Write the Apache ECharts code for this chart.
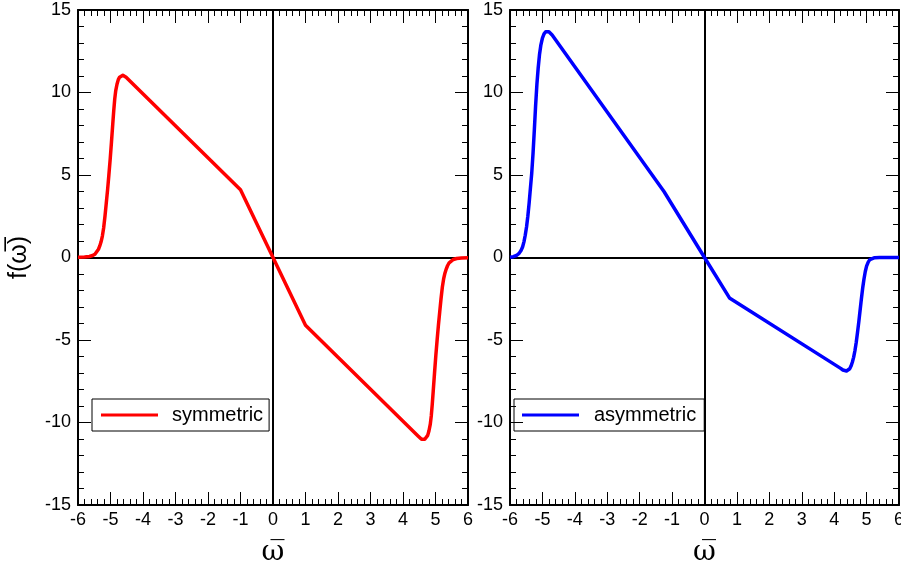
<!DOCTYPE html>
<html>
<head>
<meta charset="utf-8">
<script src="https://cdn.jsdelivr.net/npm/echarts@6/dist/echarts.min.js"></script>
<style>html,body{margin:0;padding:0;background:#fff}#c{width:901px;height:564px}</style>
</head>
<body>
<div id="c"></div>
<script>
// ---- data ----
const xTickValues = [-6, -5, -4, -3, -2, -1, 0, 1, 2, 3, 4, 5, 6];
const yTickValues = [-15, -10, -5, 0, 5, 10, 15];

const symX = [-6, -5.8, -5.65, -5.55, -5.48, -5.42, -5.37, -5.33, -5.29, -5.25, -5.21, -5.17, -5.13, -5.09, -5.05, -5.01,
              -4.97, -4.93, -4.9, -4.87, -4.84, -4.8, -4.76, -4.72, -4.67, -4.62, -4.57, -4.52, -4.47, -1.0, 0,
              1.0, 4.47, 4.52, 4.57, 4.62, 4.67, 4.72, 4.76, 4.8, 4.84, 4.87, 4.9, 4.93, 4.97,
              5.01, 5.05, 5.09, 5.13, 5.17, 5.21, 5.25, 5.29, 5.33, 5.37, 5.42, 5.48, 5.55, 5.65, 5.8, 6];
const symY = [0.02, 0.03, 0.06, 0.12, 0.2, 0.32, 0.5, 0.7, 0.95, 1.3, 1.8, 2.5, 3.3, 4.1, 5.0, 5.95,
              7.0, 8.1, 8.9, 9.6, 10.1, 10.5, 10.78, 10.93, 11.02, 11.05, 11.02, 10.93, 10.83, 4.1, 0,
              -4.1, -10.83, -10.93, -11.02, -11.05, -11.02, -10.93, -10.78, -10.5, -10.1, -9.6, -8.9, -8.1, -7.0,
              -5.95, -5.0, -4.1, -3.3, -2.5, -1.8, -1.3, -0.95, -0.7, -0.5, -0.32, -0.2, -0.12, -0.06, -0.03, -0.02];

const asymX = [-6, -5.9, -5.8, -5.72, -5.66, -5.61, -5.57, -5.53, -5.49, -5.45, -5.41, -5.37, -5.33, -5.29, -5.25, -5.21,
               -5.17, -5.13, -5.09, -5.05, -5.0, -4.95, -4.9, -4.85, -4.8, -4.75, -4.7, -1.25, 0,
               0.77, 4.2, 4.27, 4.33, 4.38, 4.43, 4.48, 4.52, 4.56, 4.6, 4.64, 4.68, 4.72, 4.76, 4.8,
               4.84, 4.88, 4.92, 4.96, 5.0, 5.05, 5.1, 5.16, 5.25, 5.4, 6];
const asymY = [0.02, 0.05, 0.12, 0.25, 0.42, 0.65, 0.95, 1.35, 1.85, 2.5, 3.3, 4.2, 5.1, 6.3, 7.7, 9.2,
               10.5, 11.5, 12.3, 12.85, 13.3, 13.55, 13.68, 13.72, 13.68, 13.6, 13.48, 4.0, 0,
               -2.45, -6.72, -6.82, -6.87, -6.88, -6.84, -6.74, -6.58, -6.35, -6.05, -5.65, -5.15, -4.55, -3.9, -3.2,
               -2.5, -1.85, -1.3, -0.85, -0.52, -0.28, -0.13, -0.05, -0.01, 0, 0];

const seriesNames = ['symmetric', 'asymmetric'];
const seriesColors = ['#ff0000', '#0000ff'];

// ---- chart ----
const FONT = 'Liberation Sans, Arial, sans-serif';
const zip = (xs, ys) => xs.map((x, i) => [x, ys[i]]);

function xAx(gi, pos) {
  const bottom = pos === 'bottom';
  return {
    gridIndex: gi, type: 'value', position: pos,
    min: xTickValues[0], max: xTickValues[xTickValues.length - 1], interval: 1,
    axisLine: { onZero: false, lineStyle: { color: '#000', width: 2 } },
    axisTick: { inside: true, length: 13, lineStyle: { color: '#000', width: 1 } },
    minorTick: { show: true, splitNumber: 5, length: 6, lineStyle: { color: '#000', width: 1 } },
    splitLine: { show: false },
    axisLabel: { show: bottom, color: '#000', fontSize: 18, fontFamily: FONT, margin: 6, hideOverlap: false },
    name: bottom ? 'ω\u0305' : '',
    nameLocation: 'middle', nameGap: 34,
    nameTextStyle: { color: '#000', fontSize: 28, fontFamily: 'DejaVu Serif, Liberation Serif, serif' }
  };
}
function yAx(gi, pos, withName) {
  const left = pos === 'left';
  return {
    gridIndex: gi, type: 'value', position: pos,
    min: yTickValues[0], max: yTickValues[yTickValues.length - 1], interval: 5,
    axisLine: { onZero: false, lineStyle: { color: '#000', width: 2 } },
    axisTick: { inside: true, length: 13, lineStyle: { color: '#000', width: 1 } },
    minorTick: { show: true, splitNumber: 5, length: 6, lineStyle: { color: '#000', width: 1 } },
    splitLine: { show: false },
    axisLabel: { show: left, color: '#000', fontSize: 18, fontFamily: FONT, margin: 7 },
    name: withName ? 'f(ω\u0305)' : '',
    nameLocation: 'middle', nameGap: 46, nameRotate: 90,
    nameTextStyle: { color: '#000', fontSize: 25, fontFamily: FONT }
  };
}

const zeroMark = {
  silent: true, symbol: 'none', z: 3,
  label: { show: false },
  lineStyle: { color: '#000', width: 2, type: 'solid' },
  data: [{ yAxis: 0 }, { xAxis: 0 }]
};

const option = {
  animation: false,
  backgroundColor: '#fff',
  grid: [
    { left: 78, top: 10, width: 390, height: 495, containLabel: false, outerBoundsMode: 'none' },
    { left: 510, top: 10, width: 389, height: 495, containLabel: false, outerBoundsMode: 'none' }
  ],
  xAxis: [xAx(0, 'bottom'), xAx(0, 'top'), xAx(1, 'bottom'), xAx(1, 'top')],
  yAxis: [yAx(0, 'left', true), yAx(0, 'right', false), yAx(1, 'left', false), yAx(1, 'right', false)],
  legend: [
    {
      data: [seriesNames[0]], left: 92, top: 399,
      orient: 'vertical', icon: 'rect', itemWidth: 57, itemHeight: 3,
      borderColor: '#000', borderWidth: 1, borderRadius: 0,
      padding: [6, 6, 6, 9],
      textStyle: { color: '#000', fontSize: 20, fontFamily: FONT, padding: [0, 0, 0, 9] }
    },
    {
      data: [seriesNames[1]], left: 514, top: 399,
      orient: 'vertical', icon: 'rect', itemWidth: 57, itemHeight: 3,
      borderColor: '#000', borderWidth: 1, borderRadius: 0,
      padding: [6, 8, 6, 8],
      textStyle: { color: '#000', fontSize: 20, fontFamily: FONT, padding: [0, 0, 0, 10] }
    }
  ],
  series: [
    {
      name: seriesNames[0], type: 'line', xAxisIndex: 0, yAxisIndex: 0,
      data: zip(symX, symY), smooth: false, symbol: 'none', z: 10,
      color: seriesColors[0], lineStyle: { color: seriesColors[0], width: 3.5, join: 'round' },
      markLine: zeroMark
    },
    {
      name: seriesNames[1], type: 'line', xAxisIndex: 2, yAxisIndex: 2,
      data: zip(asymX, asymY), smooth: false, symbol: 'none', z: 10,
      color: seriesColors[1], lineStyle: { color: seriesColors[1], width: 3.5, join: 'round' },
      markLine: zeroMark
    }
  ]
};

const chart = echarts.init(document.getElementById('c'), null, { renderer: 'canvas' });
chart.setOption(option);
</script>
</body>
</html>
